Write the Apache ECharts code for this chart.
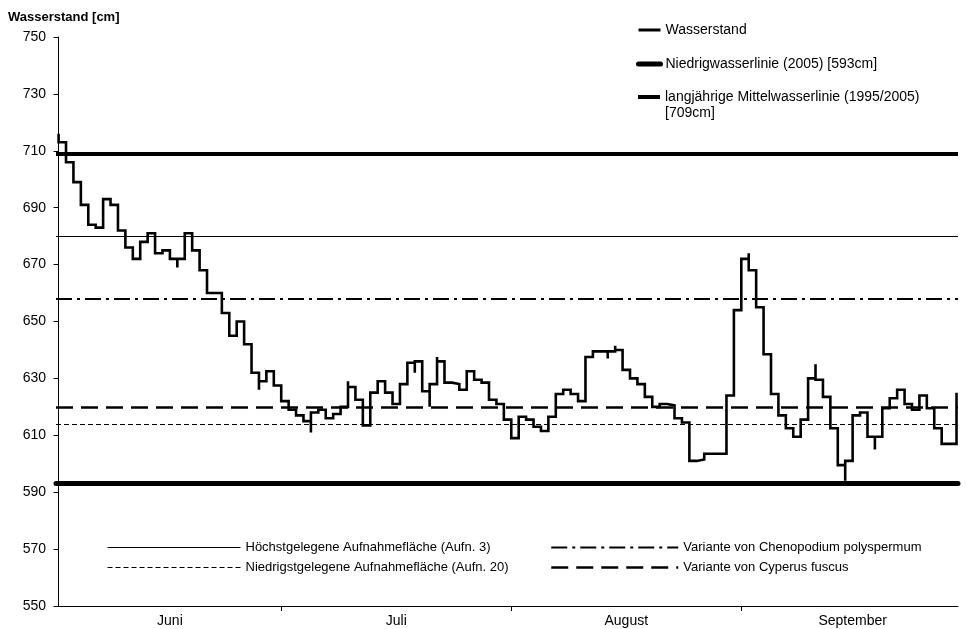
<!DOCTYPE html>
<html><head><meta charset="utf-8">
<script src="https://cdn.jsdelivr.net/npm/echarts@6/dist/echarts.min.js"></script>
<style>html,body{margin:0;padding:0;background:#fff}#c{width:966px;height:629px}</style>
</head><body><div id="c"></div>
<script>
// ---- data ----
const monthNames = ['Juni', 'Juli', 'August', 'September'];
const monthStarts = [0, 30, 61, 92, 122]; // day index (0 = 1. Juni) of month starts
const yTicks = [550, 570, 590, 610, 630, 650, 670, 690, 710, 730, 750];

// daily water level (cm), 1. Juni .. 30. September
const waterLevel = [
  713, 706, 699, 691, 684, 683, 693, 691, 682, 676,
  672, 678, 681, 674, 675, 672, 672, 681, 675, 668,
  660, 660, 653, 645, 650, 642, 632, 629, 632.5, 627.5,
  622, 619, 617, 615, 618, 619, 616, 617.5, 620, 627,
  622.5, 613.5, 625, 629, 625, 621, 628, 635.5, 636, 625.5,
  628, 636, 628.5, 628, 626, 632.5, 629.5, 628.5, 622.5, 621,
  615.5, 609, 616.5, 615.5, 613, 611.5, 616.5, 624.5, 626, 624.5,
  622, 637.5, 639.5, 639.5, 639.5, 640, 633, 630, 628, 623.5,
  620, 621, 620.5, 616, 614.5, 601, 601.5, 603.5, 603.5, 603.5,
  624, 654, 672, 668, 655, 638.5, 624.5, 617, 612.5, 609.5,
  615.5, 630, 629.5, 623.5, 612.5, 599.5, 601, 617, 618, 609.5,
  609.5, 619.5, 623, 626, 621, 619, 624, 619.5, 612.5, 607,
  607, 625
];
// short extreme readings drawn as spikes: [day, value]
const spikes = [
  [0, 716], [16, 669], [27, 626], [34, 611], [39, 629], [48, 632],
  [50, 620], [51, 637.5], [74, 637], [75, 641.5], [93, 674],
  [102, 635], [106, 594], [110, 605]
];

// reference levels (cm)
const levelNames = [
  'Niedrigwasserlinie (2005) [593cm]',
  'langjährige Mittelwasserlinie (1995/2005) [709cm]',
  'Höchstgelegene Aufnahmefläche (Aufn. 3)',
  'Niedrigstgelegene Aufnahmefläche (Aufn. 20)',
  'Variante von Chenopodium polyspermum',
  'Variante von Cyperus fuscus'
];
const levelValues = [593, 709, 680, 614, 658, 620];

// ---- styles ----
const levelStyles = [
  { width: 5, type: 'solid', cap: 'round' },
  { width: 4, type: 'solid', cap: 'butt' },
  { width: 1, type: 'solid', cap: 'butt' },
  { width: 1, type: [5, 3], cap: 'butt' },
  { width: 2, type: [16, 5, 3, 5], cap: 'butt' },
  { width: 2.5, type: [17, 8], cap: 'butt' }
];
const FONT = 'Liberation Sans, Arial, sans-serif';
const INK = '#000';

const wsData = [];
waterLevel.forEach((v, d) => {
  spikes.filter(s => s[0] === d).forEach(s => wsData.push([d, s[1]]));
  wsData.push([d, v]);
});

const monthMids = monthStarts.slice(0, -1).map((s, i) => (s + monthStarts[i + 1]) / 2);
const monthTicks = monthStarts.slice(1, -1);

const series = [{
  name: 'Wasserstand',
  type: 'line',
  step: 'end',
  symbol: 'none',
  data: wsData,
  z: 5,
  itemStyle: { color: INK },
  lineStyle: { color: INK, width: 2.6, join: 'miter' },
  emphasis: { disabled: true }
}];
levelNames.forEach((name, i) => {
  const ls = Object.assign({ color: INK }, levelStyles[i]);
  series.push({
    name: name,
    type: 'line',
    symbol: 'none',
    data: [],
    lineStyle: ls,
    itemStyle: { color: INK },
    markLine: {
      silent: true,
      symbol: ['none', 'none'],
      label: { show: false },
      emphasis: { disabled: true },
      lineStyle: ls,
      data: [{ yAxis: levelValues[i] }]
    }
  });
});

function legendItem(name, ls) {
  return {
    name: name,
    itemStyle: { opacity: 0, borderWidth: 0 },
    lineStyle: Object.assign({ color: INK, opacity: 1 }, ls)
  };
}

const chart = echarts.init(document.getElementById('c'), null, { renderer: 'canvas' });
chart.setOption({
  animation: false,
  backgroundColor: '#fff',
  textStyle: { fontFamily: FONT, color: INK },
  title: {
    text: 'Wasserstand [cm]',
    left: 3, top: 6,
    textStyle: { fontFamily: FONT, fontSize: 13, fontWeight: 'bold', color: INK }
  },
  grid: { left: 56, right: 8, top: 37, bottom: 23, containLabel: false },
  legend: [
    {
      left: 636, top: 22, orient: 'vertical', padding: 0,
      itemWidth: 22, itemHeight: 14, itemGap: 18, selectedMode: false,
      textStyle: { fontFamily: FONT, fontSize: 14, color: INK, lineHeight: 16 },
      data: [
        legendItem('Wasserstand', { width: 3 }),
        legendItem(levelNames[0], { width: 5 })
      ]
    },
    {
      left: 636, top: 73, orient: 'vertical', padding: 0,
      itemWidth: 22, itemHeight: 14, selectedMode: false,
      formatter: n => '\n' + n.replace(') [', ')\n['),
      textStyle: { fontFamily: FONT, fontSize: 14, color: INK, lineHeight: 16 },
      data: [legendItem(levelNames[1], { width: 4 })]
    },
    {
      left: 107, top: 540, orient: 'vertical', padding: 0,
      itemWidth: 133, itemHeight: 14, itemGap: 5, selectedMode: false,
      textStyle: { fontFamily: FONT, fontSize: 13, color: INK, lineHeight: 15 },
      data: [
        legendItem(levelNames[2], levelStyles[2]),
        legendItem(levelNames[3], levelStyles[3])
      ]
    },
    {
      left: 550, top: 540, orient: 'vertical', padding: 0,
      itemWidth: 127, itemHeight: 14, itemGap: 5, selectedMode: false,
      textStyle: { fontFamily: FONT, fontSize: 13, color: INK, lineHeight: 15 },
      data: [
        legendItem(levelNames[4], levelStyles[4]),
        legendItem(levelNames[5], levelStyles[5])
      ]
    }
  ],
  xAxis: {
    type: 'value',
    min: -0.35, max: 121.2,
    axisLine: { show: true, lineStyle: { color: INK, width: 1 } },
    axisTick: { show: true, customValues: monthTicks, length: 5, lineStyle: { color: INK } },
    axisLabel: {
      show: true, customValues: monthMids, margin: 8,
      fontFamily: FONT, fontSize: 14, color: INK,
      formatter: v => {
        const i = monthMids.findIndex(m => Math.abs(m - v) < 1e-6);
        return i >= 0 ? monthNames[i] : '';
      }
    },
    splitLine: { show: false }
  },
  yAxis: {
    type: 'value',
    min: 550, max: 750,
    axisLine: { show: true, lineStyle: { color: INK, width: 1 } },
    axisTick: { show: true, customValues: yTicks, length: 5, lineStyle: { color: INK } },
    axisLabel: { show: true, customValues: yTicks, margin: 10, fontFamily: FONT, fontSize: 14, color: INK },
    splitLine: { show: false }
  },
  series: series
});
</script>
</body></html>
